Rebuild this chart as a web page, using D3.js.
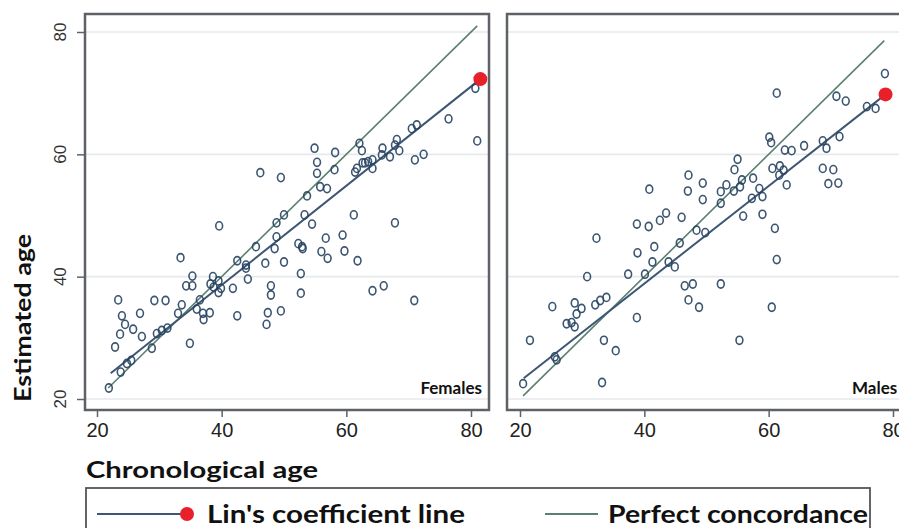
<!DOCTYPE html>
<html><head><meta charset="utf-8">
<script src="https://cdn.jsdelivr.net/npm/d3@7/dist/d3.min.js"></script>
<style>
html,body{margin:0;padding:0;background:#fff;}
svg{display:block;}
</style></head>
<body>
<svg id="chart" width="899" height="528"></svg>
<script>
// ---------------- DATA ----------------
const xTicks = [20, 40, 60, 80];
const yTicks = [20, 40, 60, 80];
const panelLabels = ["Females", "Males"];
const legendLabels = ["Lin's coefficient line", "Perfect concordance"];
const xTitle = "Chronological age";
const yTitle = "Estimated age";

const femalesChrono = [46.2,49.5,39.6,50.0,48.8,48.8,48.5,45.5,47.0,50.0,42.5,43.9,43.9,44.2,33.4,35.3,34.3,35.3,38.6,39.5,38.7,39.9,39.5,38.2,41.8,47.9,47.9,47.4,49.5,47.2,42.5,36.5,36.0,37.0,38.1,37.1,33.6,33.0,34.9,23.4,29.2,31.0,24.0,26.9,24.5,25.8,23.7,27.2,22.9,29.6,30.4,31.3,28.8,23.8,24.8,25.5,21.9,
  80.7,81.0,76.4,70.5,71.3,71.0,72.4,68.1,67.8,68.5,67.0,65.8,65.7,64.2,64.2,63.5,63.0,62.6,61.4,61.7,62.1,62.5,58.1,58.2,54.9,55.3,55.3,55.8,56.9,53.7,53.3,54.5,61.2,67.8,56.7,59.4,52.3,52.9,53.0,56.0,57.0,59.7,61.8,52.7,52.7,64.2,66.0,70.9];
const femalesEstimated = [57.0,56.2,48.3,50.1,48.8,46.5,44.6,44.9,42.2,42.4,42.6,41.4,41.9,39.6,43.1,40.1,38.5,38.5,40.0,39.3,38.3,38.1,37.4,38.8,38.1,38.5,37.0,34.1,34.4,32.2,33.6,36.2,34.7,34.0,34.1,33.0,35.4,34.0,29.1,36.2,36.1,36.1,33.6,34.0,32.2,31.4,30.6,30.2,28.5,30.7,31.2,31.6,28.3,24.4,25.8,26.3,21.8,
  70.8,62.2,65.8,64.2,64.8,59.1,60.0,62.4,61.5,60.6,59.6,61.0,59.9,59.1,57.7,58.8,58.6,58.6,57.1,57.7,61.8,60.6,57.5,60.3,61.0,58.7,56.9,54.7,54.4,53.2,50.1,48.6,50.1,48.8,46.3,46.8,45.4,44.9,44.6,44.1,43.0,44.2,42.6,40.5,37.3,37.7,38.5,36.1];

const malesChrono = [47.1,47.0,40.8,49.4,49.4,43.5,42.5,46.0,38.8,40.7,32.3,41.6,38.9,45.7,48.4,49.8,41.3,43.9,44.9,37.4,40.1,30.8,46.5,47.8,47.1,48.8,25.2,28.8,29.9,29.1,32.1,32.9,33.9,27.5,28.3,28.8,38.8,21.6,33.5,35.4,25.6,25.9,20.5,33.2,
  78.7,61.3,70.9,72.4,75.8,77.2,71.4,68.7,69.3,65.7,62.6,63.7,60.1,60.4,68.7,70.4,69.6,71.2,60.6,61.8,62.4,61.7,62.9,55.0,54.5,57.5,55.7,55.4,54.4,53.2,52.3,52.3,58.5,59.0,57.3,55.9,59.0,61.0,61.3,52.3,60.5,55.3];
const malesEstimated = [56.6,54.0,54.3,55.3,52.6,50.4,49.2,49.7,48.6,48.2,46.3,44.9,43.9,45.5,47.6,47.2,42.4,42.4,41.6,40.4,40.4,40.0,38.5,38.8,36.2,35.0,35.1,35.7,34.8,33.9,35.4,36.1,36.6,32.3,32.5,31.8,33.3,29.6,29.6,27.9,26.9,26.4,22.5,22.7,
  73.2,70.0,69.5,68.7,67.8,67.5,62.9,62.2,61.0,61.4,60.7,60.6,62.8,61.9,57.7,57.5,55.2,55.3,57.7,58.1,57.4,56.6,55.0,59.2,57.5,56.1,55.8,54.7,54.0,55.0,53.9,52.0,54.4,53.1,52.8,49.9,50.2,47.9,42.8,38.8,35.0,29.6];

// Lin's coefficient line end points [start, end] and perfect concordance range
const linFemalesX = [22.2, 81.5], linFemalesY = [24.2, 72.3];
const linMalesX = [20.6, 78.8], linMalesY = [23.4, 69.8];
const concordFemales = [21.8, 81.0];
const concordMales = [20.5, 78.6];

// ---------------- LAYOUT ----------------
const svg = d3.select("#chart");
const C_LIN = "#3d5673", C_CONC = "#5a8070", C_PT = "#274360", C_RED = "#e8202a";
const panels = [
  {frame:[85, 14, 489, 410], xr:[97, 471], label: panelLabels[0], labelX: 482, anchor:"end",
   xs: femalesChrono, ys: femalesEstimated, linX: linFemalesX, linY: linFemalesY, conc: concordFemales},
  {frame:[507, 14, 912, 410], xr:[520, 893], label: panelLabels[1], labelX: 852, anchor:"start",
   xs: malesChrono, ys: malesEstimated, linX: linMalesX, linY: linMalesY, conc: concordMales}
];
const y = d3.scaleLinear().domain([20, 80]).range([399, 32]);

panels.forEach((p, i) => {
  const x = d3.scaleLinear().domain([20, 80]).range(p.xr);
  const [fx0, fy0, fx1, fy1] = p.frame;
  const g = svg.append("g");
  g.selectAll("line.grid").data(yTicks).enter().append("line")
    .attr("x1", fx0).attr("x2", fx1).attr("y1", d => y(d)).attr("y2", d => y(d))
    .attr("stroke", "#e6e9ec").attr("stroke-width", 1.6);
  g.append("line")
    .attr("x1", x(p.conc[0])).attr("y1", y(p.conc[0]))
    .attr("x2", x(p.conc[1])).attr("y2", y(p.conc[1]))
    .attr("stroke", C_CONC).attr("stroke-width", 1.6);
  g.append("line")
    .attr("x1", x(p.linX[0])).attr("y1", y(p.linY[0]))
    .attr("x2", x(p.linX[1])).attr("y2", y(p.linY[1]))
    .attr("stroke", C_LIN).attr("stroke-width", 2);
  g.selectAll("ellipse.pt").data(d3.range(p.xs.length)).enter().append("ellipse")
    .attr("cx", k => x(p.xs[k])).attr("cy", k => y(p.ys[k]))
    .attr("rx", 3.4).attr("ry", 4.1)
    .attr("fill", "none").attr("stroke", C_PT).attr("stroke-width", 1.6).attr("opacity", 0.9);
  g.append("circle").attr("cx", x(p.linX[1])).attr("cy", y(p.linY[1])).attr("r", 7)
    .attr("fill", C_RED);
  g.append("rect").attr("x", fx0).attr("y", fy0).attr("width", fx1 - fx0).attr("height", fy1 - fy0)
    .attr("fill", "none").attr("stroke", "#5e6266").attr("stroke-width", 2.5);
  const ax = g.append("g").attr("transform", `translate(0,${fy1})`)
    .call(d3.axisBottom(x).tickValues(xTicks).tickSize(7).tickPadding(4).tickSizeOuter(0));
  ax.select(".domain").remove();
  ax.selectAll(".tick line").attr("stroke", "#5e6266").attr("stroke-width", 1.5);
  ax.selectAll(".tick text").attr("font-family", "'Liberation Sans', Arial, sans-serif")
    .attr("font-size", 20).attr("fill", "#222").attr("dy", "0.78em");
  g.append("text").attr("x", p.labelX).attr("y", 394).attr("text-anchor", p.anchor)
    .attr("font-family", "Lato, 'Open Sans', sans-serif").attr("font-weight", "bold")
    .attr("font-size", 17).attr("fill", "#111").text(p.label);
  if (i === 0) {
    const ay = g.append("g").attr("transform", `translate(${fx0},0)`)
      .call(d3.axisLeft(y).tickValues(yTicks).tickSize(8).tickSizeOuter(0));
    ay.select(".domain").remove();
    ay.selectAll(".tick line").attr("stroke", "#5e6266").attr("stroke-width", 1.5);
    ay.selectAll(".tick text").remove();
    g.selectAll("text.ylab").data(yTicks).enter().append("text")
      .attr("transform", d => `translate(66,${y(d)}) rotate(-90)`)
      .attr("text-anchor", "middle")
      .attr("font-family", "'Liberation Sans', Arial, sans-serif").attr("font-size", 17)
      .attr("fill", "#333").text(d => d);
  }
});

svg.append("text").attr("transform", "translate(31,318) rotate(-90)").attr("text-anchor", "middle")
  .attr("font-family", "Lato, 'Open Sans', sans-serif").attr("font-weight", "bold")
  .attr("font-size", 22).attr("fill", "#111").attr("textLength", 168).attr("lengthAdjust", "spacingAndGlyphs")
  .text(yTitle);
svg.append("text").attr("x", 86).attr("y", 478)
  .attr("font-family", "Lato, 'Open Sans', sans-serif").attr("font-weight", "bold")
  .attr("font-size", 23).attr("fill", "#111").attr("textLength", 232).attr("lengthAdjust", "spacingAndGlyphs")
  .text(xTitle);

const lg = svg.append("g");
lg.append("rect").attr("x", 86).attr("y", 488).attr("width", 784).attr("height", 60)
  .attr("fill", "none").attr("stroke", "#555").attr("stroke-width", 1.8);
lg.append("line").attr("x1", 97).attr("x2", 186).attr("y1", 514).attr("y2", 514)
  .attr("stroke", C_LIN).attr("stroke-width", 2);
lg.append("circle").attr("cx", 187).attr("cy", 514).attr("r", 7).attr("fill", C_RED);
lg.append("text").attr("x", 207).attr("y", 523)
  .attr("font-family", "Lato, 'Open Sans', sans-serif").attr("font-weight", "bold")
  .attr("font-size", 25).attr("fill", "#111").attr("textLength", 258).attr("lengthAdjust", "spacingAndGlyphs")
  .text(legendLabels[0]);
lg.append("line").attr("x1", 545).attr("x2", 598).attr("y1", 514).attr("y2", 514)
  .attr("stroke", C_CONC).attr("stroke-width", 2);
lg.append("text").attr("x", 608).attr("y", 523)
  .attr("font-family", "Lato, 'Open Sans', sans-serif").attr("font-weight", "bold")
  .attr("font-size", 25).attr("fill", "#111").attr("textLength", 260).attr("lengthAdjust", "spacingAndGlyphs")
  .text(legendLabels[1]);
</script>
</body></html>
